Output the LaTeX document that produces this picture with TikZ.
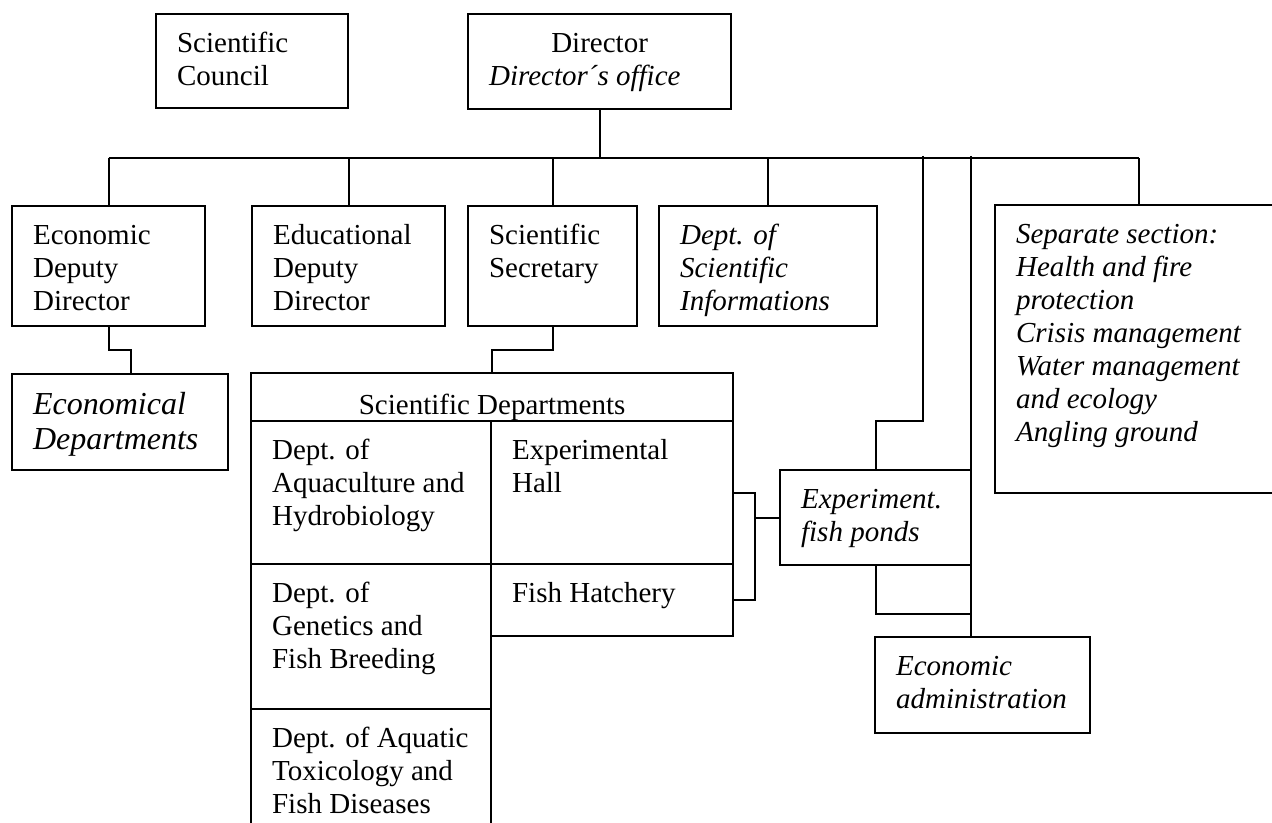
\documentclass[tikz,border=0pt]{standalone}
\usepackage{fontspec}
\setmainfont{Liberation Serif}
\usepackage{tikz}
\usetikzlibrary{calc}

\newlength{\pxu}
\setlength{\pxu}{0.5pt}
% [top gap]{width}{height}{text}, all in px
\newcommand{\unitbox}[4][15]{\parbox[t][#3\pxu][t]{\dimexpr#2\pxu-21pt\relax}{\vspace*{#1\pxu}\strut#4}}

\begin{document}
\begin{tikzpicture}[x=0.5pt,y=-0.5pt,line width=1.1pt,
    unit/.style={draw, fill=white, anchor=north west, inner xsep=10.5pt, inner ysep=0pt,
      font=\fontsize{14.5}{16.5}\selectfont}]
  \useasboundingbox (0,0) rectangle (1272,823);
  \clip (0,0) rectangle (1272,823);

  % top
  \node[unit] (council) at (155,13) {\unitbox{192}{94}{Scientific\\Council}};
  \node[unit] (dir) at (467,13) {\unitbox{263}{95}{{\centering Director\par}\textit{Director´s office}}};

  % second row
  \node[unit] (ecodep) at (11,205) {\unitbox{193}{120}{Economic\\Deputy\\Director}};
  \node[unit] (edudep) at (251,205) {\unitbox{193}{120}{Educational\\Deputy\\Director}};
  \node[unit] (sec) at (467,205) {\unitbox{169}{120}{Scientific\\Secretary}};
  \node[unit] (info) at (658,205) {\unitbox{218}{120}{\itshape Dept. of\\Scientific\\Informations}};
  \node[unit] (sep) at (994,204) {\unitbox{288}{288}{\itshape Separate section:\\Health and fire\\protection\\Crisis management\\Water management\\and ecology\\Angling ground}};

  \node[unit, font=\fontsize{16}{17.5}\selectfont\itshape] (ecodepts) at (11,373)
    {\unitbox[15.5]{216}{96}{Economical\\Departments}};

  % scientific departments
  \node[unit] (head) at (250,372) {\unitbox[18]{482}{48}{\centering Scientific Departments}};
  \node[unit] (aqua) at (250,420) {\unitbox{240}{143}{Dept. of\\Aquaculture and\\Hydrobiology}};
  \node[unit] (hall) at (490,420) {\unitbox{242}{143}{Experimental\\Hall}};
  \node[unit] (gen) at (250,563) {\unitbox{240}{145}{Dept. of\\Genetics and\\Fish Breeding}};
  \node[unit] (hatch) at (490,563) {\unitbox{242}{72}{Fish Hatchery}};
  \node[unit] (tox) at (250,708) {\unitbox{240}{150}{Dept. of Aquatic\\Toxicology and\\Fish Diseases}};

  \node[unit] (ponds) at (779,469) {\unitbox{191}{95}{\itshape Experiment.\\fish ponds}};
  \node[unit] (admin) at (874,636) {\unitbox{215}{96}{\itshape Economic\\administration}};

  % connectors
  \coordinate (hub) at ($(dir.south)+(0,48)$);
  \coordinate (tapA) at (923,156);
  \coordinate (tapB) at (971,156);
  \draw (dir.south) -- (hub);
  \draw (ecodep.north |- hub) -- (sep.north |- hub);
  \foreach \n in {ecodep,edudep,sec,info,sep}
    \draw (\n.north) -- (\n.north |- hub);
  \draw (tapA) -- ++(0,265) -| (ponds.north);
  \draw (tapB) -- (tapB |- admin.north);
  \draw (ponds.south) -- ++(0,48) -| (tapB);
  \draw (sec.south) -- ++(0,23) -| (head.north);
  \draw (ecodep.south) -- ++(0,23) -| ([xshift=5.5pt]ecodepts.north);
  \coordinate (fork) at ($(ponds.west)+(-24,0)$);
  \draw (hall.east) -| (fork) |- (hatch.east);
  \draw (fork) -- (ponds.west);
\end{tikzpicture}
\end{document}
